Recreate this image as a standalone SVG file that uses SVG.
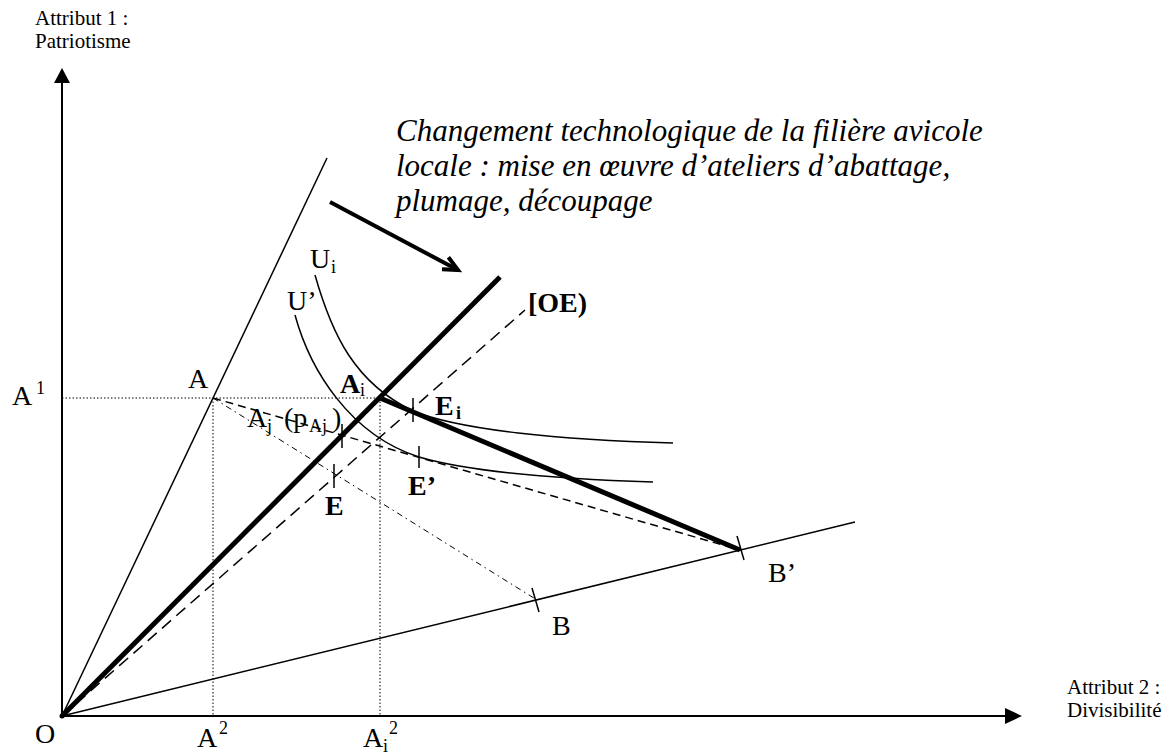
<svg xmlns="http://www.w3.org/2000/svg" width="1170" height="754" viewBox="0 0 1170 754">
<style>
text{font-family:"Liberation Serif","Times New Roman",serif;fill:#000}
.lbl{font-size:28px}
.sm{font-size:18px}
.att{font-size:21px}
.b{font-weight:bold}
.cap{font-size:31px;font-style:italic}
.ln{stroke:#000;fill:none;stroke-width:1.5}
.thick{stroke:#000;fill:none;stroke-width:5}
.axis{stroke:#000;fill:none;stroke-width:2}
.dot{stroke:#000;fill:none;stroke-width:1;stroke-dasharray:1.5 2}
.dash{stroke:#000;fill:none;stroke-width:1.5;stroke-dasharray:12 7}
.dash2{stroke:#000;fill:none;stroke-width:1.5;stroke-dasharray:8 5}
.dashdot{stroke:#000;fill:none;stroke-width:1;stroke-dasharray:6 4 1.5 4}
.tick{stroke:#000;stroke-width:1.5}
</style>
<rect width="1170" height="754" fill="#fff"/>
<g id="axes">
<line class="axis" x1="62" y1="716" x2="62" y2="80"/>
<polygon points="62,68 54,83 70,83" fill="#000"/>
<line class="axis" x1="62" y1="716" x2="1008" y2="716"/>
<polygon points="1022,716 1005,708 1005,724" fill="#000"/>
<circle cx="62" cy="716" r="2.5" fill="#000"/>
</g>
<g id="connectors">
<line class="dot" x1="62" y1="398" x2="380" y2="398"/>
<line class="dot" x1="213" y1="398" x2="213" y2="716"/>
<line class="dot" x1="380" y1="398" x2="380" y2="716"/>
<line class="ln" x1="62" y1="716" x2="327" y2="158"/>
<line class="ln" x1="62" y1="716" x2="855" y2="522"/>
<line class="dash" x1="62" y1="716" x2="525" y2="310"/>
<line class="thick" x1="62" y1="716" x2="500" y2="277"/>
<line class="thick" x1="380" y1="398" x2="740" y2="550"/>
<line class="dashdot" x1="213" y1="398" x2="537" y2="600"/>
<line class="dash2" x1="213" y1="398" x2="740" y2="550"/>
<path class="ln" d="M315,275 C332,335 355,383 413,411 C460,430 560,440 673,443"/>
<path class="ln" d="M295,315 C310,370 350,435 419,457 C470,472 560,479 653,482"/>
<line stroke="#000" stroke-width="4" x1="330" y1="202" x2="456" y2="269"/>
<path d="M448.4,257.2 L458,270 L442,269.2" stroke="#000" stroke-width="4" fill="none" stroke-linejoin="miter"/>
<line class="tick" x1="342" y1="424" x2="342" y2="448"/>
<line class="tick" x1="334" y1="464" x2="334" y2="488"/>
<line class="tick" x1="413" y1="398" x2="413" y2="422"/>
<line class="tick" x1="419" y1="446" x2="419" y2="468"/>
<line class="tick" x1="532" y1="588" x2="539" y2="612"/>
<line class="tick" x1="737" y1="536" x2="744" y2="560"/>
</g>
<g id="caption">
<text class="cap" x="396" y="141">Changement technologique de la filière avicole</text>
<text class="cap" x="396" y="176">locale : mise en œuvre d’ateliers d’abattage,</text>
<text class="cap" x="396" y="211">plumage, découpage</text>
</g>
<g id="axis-labels">
<text class="att" x="35" y="25">Attribut 1 :</text>
<text class="att" x="35" y="48">Patriotisme</text>
<text class="att" x="1067" y="694">Attribut 2 :</text>
<text class="att" x="1067" y="717">Divisibilité</text>
</g>
<g id="node-O"><text class="lbl" x="35" y="743">O</text></g>
<g id="node-A1"><text class="lbl" x="12" y="405">A</text><text class="sm" x="36" y="394">1</text></g>
<g id="node-A2"><text class="lbl" x="197" y="747">A</text><text class="sm" x="219" y="734">2</text></g>
<g id="node-Ai2"><text class="lbl" x="363" y="747">A</text><text class="sm" x="383" y="752">i</text><text class="sm" x="389" y="734">2</text></g>
<g id="node-A"><text class="lbl" x="188" y="388">A</text></g>
<g id="node-Ai"><text class="lbl b" x="340" y="393">A</text><text class="sm" x="360" y="396">i</text></g>
<g id="node-Aj"><text class="lbl" x="247" y="427">A</text><text class="sm" x="267" y="432">j</text><text class="lbl" x="284" y="427">(p</text><text class="sm" x="309" y="432">Aj</text><text class="lbl" x="332" y="427">)</text></g>
<g id="node-Ui"><text class="lbl" x="310" y="268">U</text><text class="sm" x="331" y="273">i</text></g>
<g id="node-Uprime"><text class="lbl" x="287" y="310">U’</text></g>
<g id="node-OE"><text class="lbl b" x="528" y="312">[OE)</text></g>
<g id="node-Ei"><text class="lbl b" x="435" y="415">E</text><text class="sm b" x="456" y="419">i</text></g>
<g id="node-Eprime"><text class="lbl b" x="408" y="495">E’</text></g>
<g id="node-E"><text class="lbl b" x="325" y="515">E</text></g>
<g id="node-B"><text class="lbl" x="552" y="635">B</text></g>
<g id="node-Bprime"><text class="lbl" x="768" y="582">B’</text></g>
</svg>
